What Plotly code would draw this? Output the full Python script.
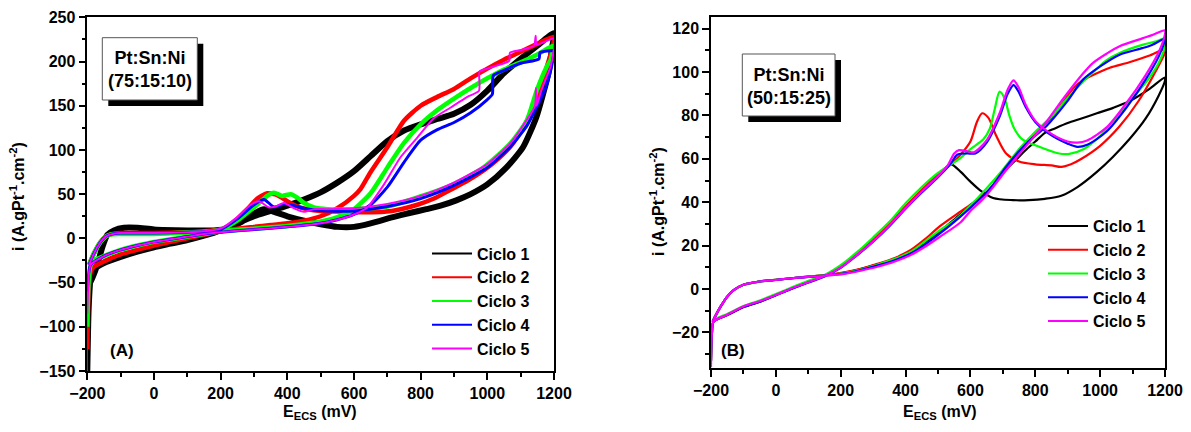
import plotly.graph_objects as go

# ---- data (E in mV, i in A.gPt-1.cm-2) ----
# panel A : Pt:Sn:Ni (75:15:10)
a1_e = [-200, -196, -190, -180, -150, -100, -50, 0, 50, 100, 150, 200, 250, 300, 350, 400, 450, 500, 550, 600, 650,
        700, 750, 800, 850, 900, 950, 1000, 1050, 1100, 1150, 1200,
        1194, 1185, 1167, 1147, 1107, 1057, 1000, 950, 907, 860, 817, 770, 717, 650, 600, 550, 500, 450, 400, 360,
        330, 300, 260, 220, 180, 100, 0, -50, -90, -120, -140, -155, -170, -185, -198]
a1_i = [-150, -80, -45, -35, -28, -21, -15, -10, -6, -2, 3, 9, 17, 25, 31, 37, 44, 52, 63, 76, 93,
        110, 122, 129, 135, 141, 151, 167, 187, 203, 218, 232,
        216, 190, 163, 137, 103, 80, 61, 50, 43, 37, 33, 29, 24, 17, 13, 13, 16, 20, 25, 30,
        33, 28, 18, 11, 9, 9, 10, 12, 12, 9, 4, -10, -30, -45, -55]

a2_e = [-200, -196, -190, -180, -150, -100, -50, 0, 50, 100, 150, 200, 250, 300, 350, 400, 450, 500, 550, 600, 620,
        650, 700, 750, 800, 850, 900, 950, 1000, 1050, 1100, 1150, 1200,
        1195, 1180, 1165, 1150, 1135, 1110, 1070, 1030, 990, 940, 890, 840, 790, 740, 690, 640, 590, 540, 500, 460,
        430, 400, 370, 340, 310, 280, 250, 220, 200, 150, 100, 0, -100, -130, -145, -160, -180, -195]
a2_i = [-125, -60, -38, -32, -26, -18, -13, -8, -4, 0, 4, 8, 11, 13, 15, 17, 20, 25, 34, 48, 56,
        75, 103, 133, 150, 160, 169, 181, 192, 202, 211, 220, 228,
        215, 196, 178, 160, 145, 127, 104, 89, 77, 65, 55, 45, 38, 33, 30, 29.5, 30, 30.5, 31, 33,
        36, 42, 49, 51, 45, 33, 22, 13, 10, 8, 7, 6, 6, 4.5, 2, -4, -17, -30]

a3_e = [-200, -196, -190, -180, -150, -100, -50, 0, 50, 100, 150, 200, 300, 400, 500, 550, 600, 650, 700, 750, 800,
        850, 900, 950, 1000, 1050, 1100, 1150, 1200,
        1196, 1190, 1178, 1148, 1118, 1068, 988, 888, 788, 700, 600, 520, 480, 450, 430, 410, 385, 360, 340, 300,
        250, 200, 150, 100, 0, -100, -130, -145, -160, -180, -195]
a3_i = [-100, -50, -30, -25, -20, -13, -8, -4, -1, 2, 5, 8, 11, 14, 19, 24, 33, 51, 80, 108, 129,
        145, 158, 170, 181, 191, 199, 208, 218,
        212, 202, 194, 167, 133, 107, 80, 59.5, 46, 36, 33, 33, 35, 40, 46, 50, 48, 51.5, 48, 35,
        20, 10, 7.5, 6.5, 5, 5, 4.5, 2, -4, -17, -30]

a4_e = [-200, -196, -190, -150, -100, -50, 0, 50, 100, 150, 200, 300, 400, 500, 550, 600, 650, 700, 750, 800, 850,
        900, 950, 1000, 1015, 1018, 1050, 1100, 1155, 1158, 1200,
        1198, 1190, 1175, 1150, 1120, 1070, 1000, 900, 800, 700, 600, 520, 480, 450, 420, 390, 360, 330, 300, 250,
        200, 150, 100, 0, -100, -130, -145, -160, -180, -195]
a4_i = [-60, -40, -30, -20, -13, -8, -4, -1, 2, 5, 7, 10, 13, 17, 21, 27, 38, 58, 86, 111, 123,
        131, 142, 157, 163, 184, 190, 198, 203, 210, 212,
        205, 190, 170, 150, 128, 104, 80, 60, 45, 36, 31, 31, 32, 34, 37, 39, 35.5, 44, 38, 22,
        10, 7.5, 7, 6, 6, 4.5, 2, -4, -17, -30]

a5_e = [-200, -196, -190, -150, -100, -50, 0, 50, 100, 150, 200, 300, 400, 500, 550, 600, 640, 690, 740, 790, 840,
        890, 940, 975, 977, 1000, 1050, 1066, 1068, 1100, 1140, 1145, 1148, 1200,
        1198, 1190, 1175, 1160, 1148, 1146, 1143, 1120, 1070, 1000, 900, 800, 700, 600, 520, 480, 450, 420, 390,
        365, 345, 315, 290, 250, 200, 150, 100, 0, -100, -130, -145, -160, -180, -195]
a5_i = [-85, -45, -30, -20, -13, -8, -4, -1, 2, 5, 7, 10, 13, 17, 21, 27, 35, 61, 92, 114, 136,
        148, 160, 167, 189, 192, 198, 201, 210, 213, 218, 229, 219, 226,
        210, 195, 180, 165, 150, 170, 150, 135, 108, 84, 63, 48, 39, 34, 33, 33, 30, 34, 40,
        36, 35, 42, 38, 24, 11, 8, 7, 6, 6, 4.5, 2, -4, -17, -30]

# panel B : Pt:Sn:Ni (50:15:25)
b1_e = [-200, -197, -192, -150, -100, -50, 0, 50, 100, 150, 200, 250, 300, 350, 400, 450, 500, 540, 570, 600, 630,
        670, 730, 780, 830, 880, 930, 990, 1040, 1090, 1140, 1180, 1200,
        1200, 1150, 1090, 1040, 990, 940, 900, 860, 830, 800, 770, 740, 710, 680, 650, 600, 550, 500, 450, 400,
        350, 300, 250, 200, 150, 100, 50, 0, -50, -100, -130, -150, -170, -185, -195]
b1_i = [-33, -20, -15, -12, -8.3, -5.8, -2.8, 0.3, 3.2, 6, 10.2, 16, 22.5, 29.7, 37.8, 45.5, 52.5, 57.5, 54, 49.5,
        45.5, 42, 41, 41, 41.6, 43, 47, 54, 61, 69, 78.5, 89, 96,
        97.5, 92, 86.5, 83.5, 81, 78.5, 76.5, 74, 72, 68, 64, 59.5, 55, 49.5, 44.5, 38.5, 32, 26, 20.5, 16.3,
        13, 10.8, 8.8, 7.3, 6.3, 5.7, 5, 4.3, 3.5, 2, -0.5, -3.5, -8, -12, -15]

b2_e = [-200, -197, -192, -150, -100, -50, 0, 50, 100, 150, 200, 250, 300, 350, 400, 450, 500, 540, 570, 600, 620,
        636, 655, 680, 710, 750, 800, 850, 880, 910, 940, 1000, 1060, 1120, 1170, 1200,
        1200, 1150, 1090, 1030, 990, 950, 920, 885, 850, 800, 750, 700, 660, 610, 570, 505, 460, 416, 365, 313,
        262, 211, 150, 100, 50, 0, -50, -100, -130, -150, -170, -185, -195]
b2_i = [-33, -20, -15, -12, -8.2, -5.7, -2.7, 0.4, 3.3, 6.1, 10.4, 16.3, 22.8, 30, 38, 45.8, 52.5, 57.5, 62, 68,
        77, 81, 79, 70.5, 62.5, 58.8, 57.5, 57, 56.3, 57.5, 59.8, 66, 75, 87, 100, 109,
        110.5, 107.5, 104.5, 102, 99.5, 96.5, 93, 86, 79, 71.5, 63.5, 54, 46, 40, 35.8, 28.9, 23, 18, 14.2, 11.6,
        9.3, 7.7, 6.4, 5.7, 5, 4.3, 3.5, 2, -0.5, -3.5, -8, -12, -15]

b3_e = [-200, -197, -192, -150, -100, -50, 0, 50, 100, 150, 200, 250, 300, 350, 400, 450, 500, 540, 570, 600, 640,
        660, 675, 690, 705, 720, 735, 760, 810, 870, 905, 950, 1000, 1050, 1100, 1150, 1180, 1200,
        1200, 1170, 1130, 1060, 1020, 990, 950, 900, 850, 800, 750, 700, 650, 600, 550, 505, 460, 416, 365, 313,
        262, 211, 150, 100, 50, 0, -50, -100, -130, -150, -170, -185, -195]
b3_i = [-33, -20, -14.5, -11.5, -7.8, -5.3, -2.3, 0.8, 3.8, 6.5, 11, 17, 23.8, 31, 39.5, 47, 53.5, 57.5, 60.5, 64.5,
        69, 74, 83, 91, 88, 80, 74, 69, 65.7, 62.6, 62.3, 64.5, 70.5, 79, 88, 97, 104, 112,
        115.5, 114, 112.5, 108.8, 105.5, 101.5, 96, 88, 79.5, 72.5, 64.5, 55, 46.5, 38.5, 31.5, 27, 22, 17.2, 13.8,
        11.2, 9, 7.4, 6.3, 5.7, 5, 4.3, 3.5, 2, -0.5, -3.5, -8, -12, -15]

b4_e = [-200, -197, -192, -150, -100, -50, 0, 50, 100, 150, 200, 250, 300, 350, 400, 450, 500, 540, 560, 590, 615,
        650, 690, 715, 733, 750, 770, 800, 850, 900, 930, 960, 1020, 1080, 1140, 1180, 1200,
        1200, 1160, 1130, 1060, 1000, 947, 896, 834, 772, 711, 670, 639, 600, 570, 505, 460, 416, 365, 313,
        262, 211, 150, 100, 50, 0, -50, -100, -130, -150, -170, -185, -195]
b4_i = [-33, -20, -15, -12, -8.3, -5.8, -2.8, 0.2, 3, 5.8, 9.8, 15.5, 21.8, 29, 37, 44.5, 51.5, 58, 62, 62.5, 62.5,
        67.5, 79.5, 90, 94, 90.5, 84, 77, 70.8, 67, 65.5, 66.5, 72.6, 83.4, 96.5, 107, 115,
        115.5, 112.5, 111, 108, 102.6, 96.5, 86, 75, 67, 56.5, 48, 43, 37.5, 33.5, 25.5, 20.5, 16.4, 13.2, 10.8,
        8.8, 7.2, 6.2, 5.6, 5, 4.2, 3.5, 2, -0.5, -3.5, -8, -12, -15]

b5_e = [-200, -197, -192, -150, -100, -50, 0, 50, 100, 150, 200, 250, 300, 350, 400, 450, 500, 530, 550, 565, 590,
        610, 650, 690, 715, 733, 750, 770, 800, 850, 900, 930, 960, 1020, 1080, 1140, 1180, 1200,
        1200, 1160, 1130, 1060, 1020, 978, 937, 885, 834, 772, 711, 670, 639, 600, 570, 505, 460, 416, 365, 313,
        262, 211, 150, 100, 50, 0, -50, -100, -130, -150, -170, -185, -195]
b5_i = [-36, -20, -15, -11.8, -8, -5.6, -2.7, 0.4, 3.2, 6, 10, 15.8, 22, 29.3, 37.3, 45, 52, 57, 62.5, 64, 63.5,
        63, 68.5, 81, 92, 96.2, 92.5, 85, 77.5, 71.5, 68, 67.5, 68.5, 74.5, 85.5, 98.5, 109, 117.5,
        119.2, 117, 115.5, 111.9, 108.5, 104.2, 97.5, 87.5, 77, 66, 55, 47, 41.5, 36, 30.8, 24, 19.5, 15.7, 12.6, 10.3,
        8.5, 7, 6.1, 5.6, 5, 4.2, 3.5, 2, -0.5, -3.5, -8, -12, -15]

cycle_names = ["Ciclo 1", "Ciclo 2", "Ciclo 3", "Ciclo 4", "Ciclo 5"]
colors = ["#000000", "#ff0000", "#00ff00", "#0000ff", "#ff00ff"]
a_widths = [6, 4.5, 4.5, 3, 2]

FONT = "Liberation Sans"
# the page body has an 8px margin, so the figure is drawn 8px in from the window corner
OFF = 8
W, H = 1191 - OFF, 432 - OFF


def px(x):
    return (x - OFF) / W


def py(y):
    return 1 - (y - OFF) / H


fig = go.Figure()

panel_a = [(a1_e, a1_i), (a2_e, a2_i), (a3_e, a3_i), (a4_e, a4_i), (a5_e, a5_i)]
panel_b = [(b1_e, b1_i), (b2_e, b2_i), (b3_e, b3_i), (b4_e, b4_i), (b5_e, b5_i)]

for k, (e, i) in enumerate(panel_a):
    fig.add_trace(go.Scatter(x=e, y=i, mode="lines", showlegend=False, xaxis="x", yaxis="y",
                             line=dict(color=colors[k], width=a_widths[k], shape="spline", smoothing=0.6)))
for k, (e, i) in enumerate(panel_b):
    fig.add_trace(go.Scatter(x=e, y=i, mode="lines", showlegend=False, xaxis="x2", yaxis="y2",
                             line=dict(color=colors[k], width=2.2, shape="spline", smoothing=0.8)))

# legend entries (thin sample lines, as in the original)
for k, name in enumerate(cycle_names):
    fig.add_trace(go.Scatter(x=[None], y=[None], mode="lines", name=name, legend="legend",
                             xaxis="x", yaxis="y", line=dict(color=colors[k], width=2)))
    fig.add_trace(go.Scatter(x=[None], y=[None], mode="lines", name=name, legend="legend2",
                             xaxis="x2", yaxis="y2", line=dict(color=colors[k], width=2)))

tickfont = dict(family=FONT, size=16, color="black", weight="bold")
axis_common = dict(showline=True, linewidth=1.5, linecolor="black", mirror=True, ticks="outside",
                   ticklen=7, tickwidth=1.5, tickcolor="black", showgrid=False, zeroline=False,
                   tickfont=tickfont, automargin=False)
legend_common = dict(xanchor="left", yanchor="top", bgcolor="rgba(0,0,0,0)", tracegroupgap=0,
                     itemwidth=40,
                     font=dict(family=FONT, size=16, color="black", weight="bold"))

fig.update_layout(
    width=W, height=H, margin=dict(l=0, r=0, t=0, b=0, autoexpand=False),
    paper_bgcolor="white", plot_bgcolor="white",
    xaxis=dict(axis_common, domain=[px(87.3), px(554)], range=[-200, 1200], dtick=200, anchor="y",
               minor=dict(dtick=100, ticks="outside", ticklen=4, tickwidth=1.5, tickcolor="black")),
    yaxis=dict(axis_common, domain=[py(371), py(17.3)], range=[-150, 250], dtick=50, anchor="x",
               minor=dict(dtick=25, ticks="outside", ticklen=4, tickwidth=1.5, tickcolor="black")),
    xaxis2=dict(axis_common, domain=[px(711), px(1165)], range=[-200, 1200], dtick=200, anchor="y2",
                minor=dict(dtick=100, ticks="outside", ticklen=4, tickwidth=1.5, tickcolor="black")),
    yaxis2=dict(axis_common, domain=[py(368.3), py(16.7)], range=[-36.5, 125.5], dtick=20, anchor="x2",
                minor=dict(dtick=10, ticks="outside", ticklen=4, tickwidth=1.5, tickcolor="black")),
    legend=dict(legend_common, x=px(427), y=py(236.5)),
    legend2=dict(legend_common, x=px(1043), y=py(209)),
)

# label boxes with drop shadow
for (x0, y0, x1, y1) in [(102.3, 37.7, 197.3, 100), (742.3, 54, 835, 116)]:
    fig.add_shape(type="rect", xref="paper", yref="paper", x0=px(x0 + 6), x1=px(x1 + 6),
                  y0=py(y1 + 6), y1=py(y0 + 6), fillcolor="black", line=dict(width=0))
    fig.add_shape(type="rect", xref="paper", yref="paper", x0=px(x0), x1=px(x1),
                  y0=py(y1), y1=py(y0), fillcolor="white", line=dict(color="#555555", width=1))

labfont = dict(family=FONT, size=18, color="black", weight="bold")
ann = [
    dict(x=px(150), y=py(69), text="Pt:Sn:Ni<br>(75:15:10)", font=labfont),
    dict(x=px(788.7), y=py(86), text="Pt:Sn:Ni<br>(50:15:25)", font=labfont),
    dict(x=px(121.5), y=py(350), text="(A)", font=dict(labfont, size=17)),
    dict(x=px(733), y=py(350), text="(B)", font=dict(labfont, size=17)),
    dict(x=px(320), y=py(412), text="E<sub>ECS</sub> (mV)", font=dict(labfont, size=16)),
    dict(x=px(940), y=py(412), text="E<sub>ECS</sub> (mV)", font=dict(labfont, size=16)),
    dict(x=px(17), y=py(197), text="i (A.gPt<sup>-1</sup>.cm<sup>-2</sup>)", textangle=-90,
         font=dict(labfont, size=16)),
    dict(x=px(657), y=py(201), text="i (A.gPt<sup>-1</sup>.cm<sup>-2</sup>)", textangle=-90,
         font=dict(labfont, size=16)),
]
for a in ann:
    fig.add_annotation(xref="paper", yref="paper", showarrow=False, xanchor="center", yanchor="middle", **a)

fig.write_html("out.html")
